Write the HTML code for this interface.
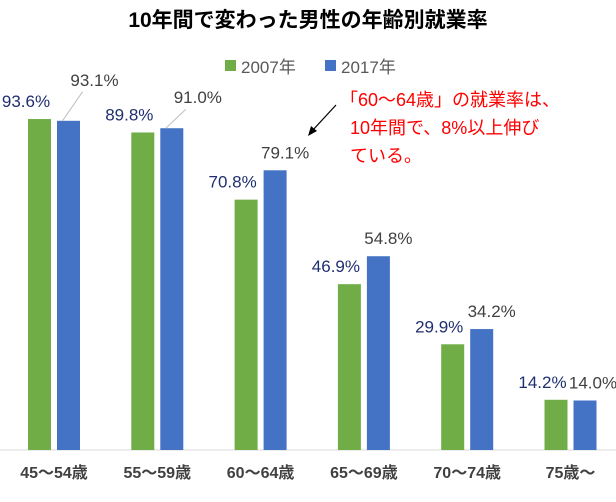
<!DOCTYPE html>
<html><head><meta charset="utf-8"><style>
body{margin:0;background:#fff;font-family:"Liberation Sans","Noto Sans CJK JP",sans-serif}
</style></head><body>
<svg id="chart" width="616" height="497" xmlns="http://www.w3.org/2000/svg" font-family="Liberation Sans, Noto Sans CJK JP, sans-serif">
<text x="308" y="27" text-anchor="middle" font-size="21" font-weight="bold" fill="#000">10年間で変わった男性の年齢別就業率</text>
<g>
<rect x="225" y="60" width="11" height="11" fill="#70ad47"/>
<text x="241" y="73" font-size="17" fill="#595959">2007年</text>
<rect x="325" y="60" width="11" height="11" fill="#4472c4"/>
<text x="341" y="73" font-size="17" fill="#595959">2017年</text>
</g>
<line x1="0" y1="450" x2="616" y2="450" stroke="#d9d9d9"/>
<g id="bars"></g>
<g>
<text font-size="18" fill="#ff0000"><tspan x="340" y="106">「60～64歳」の就業率は、</tspan><tspan x="350" y="134">10年間で、8%以上伸び</tspan><tspan x="350" y="162">ている。</tspan></text>
<line x1="336" y1="105" x2="312" y2="131" stroke="#000" stroke-width="1.2"/>
<polygon points="308,136 311,126 317,131" fill="#000"/>
</g>
</svg>
<script>
const categories=["45～54歳","55～59歳","60～64歳","65～69歳","70～74歳","75歳～"];
const values2007=[93.6,89.8,70.8,46.9,29.9,14.2];
const values2017=[93.1,91.0,79.1,54.8,34.2,14.0];
const NS="http://www.w3.org/2000/svg";
const g=document.getElementById('bars');
const y=v=>450-v*3.536;
const gx=i=>28+i*103.3;
function mk(t,a){const e=document.createElementNS(NS,t);for(const k in a)e.setAttribute(k,a[k]);g.appendChild(e);return e;}
categories.forEach((c,i)=>{
  const x0=gx(i),x1=x0+29,w=23;
  const b1=mk('rect',{x:x0,y:y(values2007[i]),width:w,height:450-y(values2007[i]),fill:'#70ad47'});
  
  
  const b2=mk('rect',{x:x1,y:y(values2017[i]),width:w,height:450-y(values2017[i]),fill:'#4472c4'});
  
  
  const t1=mk('text',{x:x0-2,y:y(values2007[i])-12,'text-anchor':'middle','font-size':17,fill:'#1f2f6e'});
  t1.textContent=values2007[i].toFixed(1)+'%';
  
  
  let lx=x1+w/2+10,ly=y(values2017[i])-12;
  if(i<2){
    lx=x1+w/2+26; ly=y(values2017[i])-35+(i==1?10:0);
    const ln=mk('line',{x1:x1+w/2-6,y1:y(values2017[i]),x2:lx-12,y2:ly+6,stroke:'#bfbfbf'});
    
    
  }
  if(i==5){lx=x1+w/2+8;}
  const t2=mk('text',{x:lx,y:ly,'text-anchor':'middle','font-size':17,fill:'#404040'});
  t2.textContent=values2017[i].toFixed(1)+'%';
  
  
  const cl=mk('text',{x:x0+26,y:478,'text-anchor':'middle','font-size':16,'font-weight':'bold',fill:'#404040'});
  cl.textContent=c;
  
  
});
</script>
</body></html>
